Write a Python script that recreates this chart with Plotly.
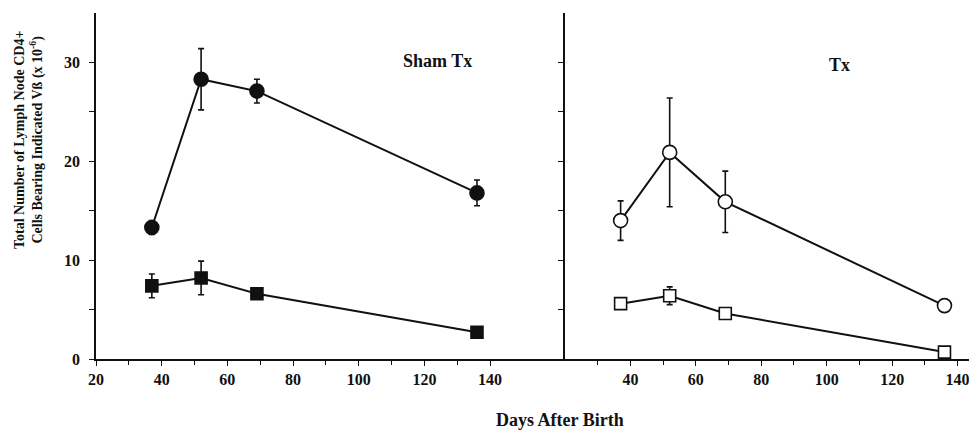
import plotly.graph_objects as go

days = [37, 52, 69, 136]

sham_circle = [13.3, 28.3, 27.1, 16.8]
sham_circle_err = [0.7, 3.1, 1.2, 1.3]
sham_square = [7.4, 8.2, 6.6, 2.7]
sham_square_err = [1.2, 1.7, 0.5, 0.0]

tx_circle = [14.0, 20.9, 15.9, 5.4]
tx_circle_err = [2.0, 5.5, 3.1, 0.0]
tx_square = [5.6, 6.4, 4.6, 0.7]
tx_square_err = [0.0, 0.9, 0.0, 0.0]

x_major = [20, 40, 60, 80, 100, 120, 140]
x_minor = [30, 50, 70, 90, 110, 130]
y_major = [0, 10, 20, 30]
y_minor = [5, 15, 25]

FONT = "Liberation Serif"
BLACK = "#111111"

fig = go.Figure()

def add(x, y, err, symbol, fill, xa, ya, size):
    fig.add_trace(go.Scatter(
        x=x, y=y, mode="lines+markers", xaxis=xa, yaxis=ya,
        line=dict(color=BLACK, width=2),
        marker=dict(symbol=symbol, size=size, color=fill,
                    line=dict(color=BLACK, width=1.6)),
        error_y=dict(type="data", array=err, visible=True, color=BLACK,
                     thickness=1.6, width=3),
        showlegend=False, cliponaxis=False))

add(days, sham_circle, sham_circle_err, "circle", BLACK, "x", "y", 14)
add(days, sham_square, sham_square_err, "square", BLACK, "x", "y", 12)
add(days, tx_circle, tx_circle_err, "circle", "white", "x2", "y2", 14)
add(days, tx_square, tx_square_err, "square", "white", "x2", "y2", 12)

split = (565 - 96) / 873

tickfont = dict(family=FONT, size=16, color=BLACK, weight="bold")
common_x = dict(showgrid=False, zeroline=False, showline=True, linecolor=BLACK,
                linewidth=1.6, ticks="outside", ticklen=5, tickwidth=1.4,
                tickcolor=BLACK, tickfont=tickfont)
common_y = dict(showgrid=False, zeroline=False, showline=True, linecolor=BLACK,
                linewidth=1.6, ticks="outside", ticklen=5, tickwidth=1.4,
                tickcolor=BLACK, tickfont=tickfont, range=[0, 35])

fig.update_layout(
    width=969, height=430,
    margin=dict(l=96, r=0, t=13, b=71),
    plot_bgcolor="white", paper_bgcolor="white",
    xaxis=dict(common_x, domain=[0, split], range=[20, 162.8],
               tickvals=x_major, ticktext=[str(v) for v in x_major],
               minor=dict(tickvals=x_minor, ticks="outside", ticklen=4,
                          tickwidth=1.4, tickcolor=BLACK)),
    yaxis=dict(common_y, anchor="x", tickvals=y_major,
               ticktext=[str(v) for v in y_major], ticklabelstandoff=6,
               minor=dict(tickvals=y_minor, ticks="outside", ticklen=5,
                          tickwidth=1.4, tickcolor=BLACK)),
    xaxis2=dict(common_x, domain=[split, 1], range=[20, 143.5],
                tickvals=x_major[1:], ticktext=[str(v) for v in x_major[1:]],
                ticklabeloverflow="allow",
                minor=dict(tickvals=x_minor, ticks="outside", ticklen=4,
                           tickwidth=1.4, tickcolor=BLACK), anchor="y2"),
    yaxis2=dict(common_y, anchor="x2", tickvals=y_major + y_minor,
                showticklabels=False),
    font=dict(family=FONT, color=BLACK),
)

fig.add_annotation(text="<b>Sham Tx</b>", xref="x", yref="y", x=124, y=30.1,
                   showarrow=False, font=dict(family=FONT, size=18, color=BLACK),
                   xanchor="center", yanchor="middle")
fig.add_annotation(text="<b>Tx</b>", xref="x2", yref="y2", x=104, y=29.7,
                   showarrow=False, font=dict(family=FONT, size=18, color=BLACK),
                   xanchor="center", yanchor="middle")
fig.add_annotation(text="<b>Days After Birth</b>", xref="paper", yref="paper",
                   x=(560 - 96) / 873, y=-(420 - 359) / 346, showarrow=False,
                   font=dict(family=FONT, size=18, color=BLACK),
                   xanchor="center", yanchor="middle")
fig.add_annotation(
    text="<b>Total Number of Lymph Node CD4+<br>Cells Bearing Indicated Vß (x 10<sup>-6</sup>)</b>",
    xref="paper", yref="paper", x=-(96 - 29) / 873, y=(359 - 140) / 346,
    showarrow=False, textangle=-90,
    font=dict(family=FONT, size=14, color=BLACK),
    xanchor="center", yanchor="middle")

fig.write_html("out.html", config={"displayModeBar": False},
               post_script="document.body.style.margin='0';document.body.style.overflow='hidden';")
